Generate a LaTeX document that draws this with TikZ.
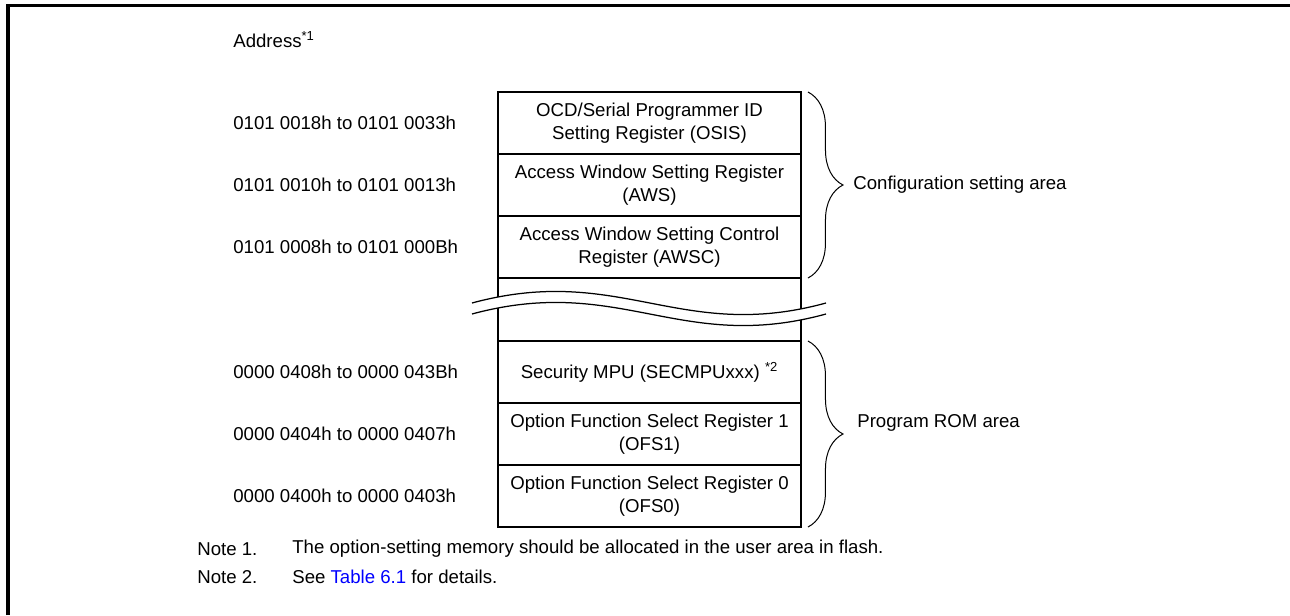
\documentclass[tikz,border=0pt]{standalone}
\usepackage{fontspec}
\setmainfont{Liberation Sans}
\usetikzlibrary{calc,decorations.pathreplacing}
\definecolor{linkblue}{RGB}{0,0,255}
\tikzset{
    reg/.style={draw, line width=0.04cm, minimum width=6.06cm, minimum height=1.24cm,
        align=center, inner sep=0pt, outer sep=0pt},
    addr/.style={anchor=west, inner sep=0pt},
    area/.style={decorate, decoration={brace, amplitude=0.7cm}, line width=0.02cm},
    wave/.style={line width=0.025cm}
}
\newcommand{\supnote}[1]{\textsuperscript{*#1}}
\begin{document}
\begin{tikzpicture}[x=0.02cm, y=-0.02cm, font=\fontsize{10.6}{13}\selectfont]
    \useasboundingbox (0,0) rectangle (1290,615);
    % Frame
    \draw[line width=0.07cm] (8,615) -- (8,5.5) -- (1290,5.5);

    % Memory map
    \node[reg] (osis) at (649.5,123) {OCD/Serial Programmer ID\\Setting Register (OSIS)};
    \node[reg] (aws) at (649.5,185) {Access Window Setting Register\\(AWS)};
    \node[reg] (awsc) at (649.5,247) {Access Window Setting Control\\Register (AWSC)};
    \node[reg, minimum height=1.26cm] (gap) at (649.5,309.5) {};
    \node[reg] (secmpu) at (649.5,372) {Security MPU (SECMPUxxx) \supnote{2}};
    \node[reg] (ofs1) at (649.5,434) {Option Function Select Register 1\\(OFS1)};
    \node[reg] (ofs0) at (649.5,496) {Option Function Select Register 0\\(OFS0)};

    % Break in the map
    \fill[white] (472,303) .. controls (620,263) and (680,343) .. (826,303)
        -- (826,314) .. controls (680,354) and (620,274) .. (472,314) -- cycle;
    \draw[wave] (472,303) .. controls (620,263) and (680,343) .. (826,303);
    \draw[wave] (472,314) .. controls (620,274) and (680,354) .. (826,314);

    % Addresses
    \node[addr] (addrhead) at (233,40) {Address\supnote{1}};
    \foreach \y/\range [count=\i] in {123/{0101 0018h to 0101 0033h},
        185/{0101 0010h to 0101 0013h}, 247/{0101 0008h to 0101 000Bh},
        372/{0000 0408h to 0000 043Bh}, 434/{0000 0404h to 0000 0407h},
        496/{0000 0400h to 0000 0403h}} {
        \node[addr] (addr\i) at (233,\y) {\range};
    }

    % Areas
    \draw[area] ($(osis.north east)+(7,0)$) -- ($(awsc.south east)+(7,0)$);
    \draw[area] ($(secmpu.north east)+(7,0)$) -- ($(ofs0.south east)+(7,0)$);
    \node[addr] (cfg) at (853,185) {Configuration setting area};
    \node[addr] (rom) at (857,423) {Program ROM area};

    % Notes
    \node[addr] (note1) at (197,549) {Note 1.};
    \node[addr] (note1txt) at (292,549) {The option-setting memory should be allocated in the user area in flash.};
    \node[addr] (note2) at (197,577) {Note 2.};
    \node[addr] (note2txt) at (292,577) {See \textcolor{linkblue}{Table 6.1} for details.};
\end{tikzpicture}
\end{document}
